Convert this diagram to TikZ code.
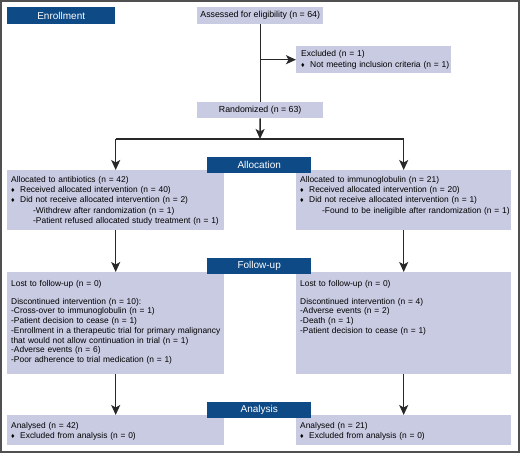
\documentclass[tikz,border=0pt]{standalone}
\usepackage{fontspec}
\setmainfont{Liberation Sans}
\usetikzlibrary{arrows.meta}
\definecolor{boxfill}{RGB}{201,203,226}
\definecolor{bannerc}{RGB}{14,74,134}
\definecolor{linec}{RGB}{40,40,40}
\definecolor{framec}{RGB}{80,80,80}
\newcommand{\dmd}{{\fontsize{7}{7}\selectfont ♦}}
\newcommand{\bitem}[1]{\makebox[9pt][l]{\dmd}#1}
\newcommand{\subitm}{\hspace*{22pt}}
\begin{document}
\begin{tikzpicture}[x=1pt,y=-1pt,
  gbox/.style={fill=boxfill, draw=none, inner sep=0pt, anchor=north west},
  banner/.style={fill=bannerc, text=white, inner sep=0pt, anchor=north west,
     minimum width=104pt, minimum height=16pt, font=\fontsize{10}{12}\selectfont},
  txt/.style={inner sep=0pt, anchor=base west, align=left},
  conn/.style={draw=linec, line width=1.4pt},
  arr/.style={conn, -{Stealth[length=10pt,width=9pt,inset=2.5pt]}}]
\useasboundingbox (0,0) rectangle (520,453);
\draw[framec, line width=1.2pt] (1,1) rectangle (519,452);

% enrollment
\node[banner, minimum width=108pt, minimum height=17pt] (enr) at (7,7) {Enrollment};
\node[gbox, minimum width=126pt, minimum height=17pt, anchor=north west, font=\fontsize{8.8}{10}\selectfont] (assess) at (197,7) {Assessed for eligibility (n = 64)};
\node[gbox, minimum width=155pt, minimum height=27pt] (excl) at (296,46) {};
\node[txt, text width=150pt, font=\fontsize{8.5}{11.5}\selectfont] (exclt) at (301,56) {Excluded (n = 1)\\\bitem{Not meeting inclusion criteria (n = 1)}};
\node[gbox, minimum width=126pt, minimum height=16pt, font=\fontsize{8.8}{10}\selectfont] (rand) at (197,102) {Randomized (n = 63)};

% allocation boxes
\node[gbox, minimum width=217pt, minimum height=60pt] (aL) at (7,170) {};
\node[gbox, minimum width=215pt, minimum height=60pt] (aR) at (296,170) {};
\node[banner] (alloc) at (207,157) {Allocation};
\node[txt, text width=214pt, font=\fontsize{8.4}{10.4}\selectfont] (aLt) at (11,182) {Allocated to antibiotics (n = 42)\\
\bitem{Received allocated intervention (n = 40)}\\
\bitem{Did not receive allocated intervention (n = 2)}\\
\subitm-Withdrew after randomization (n = 1)\\
\subitm-Patient refused allocated study treatment (n = 1)};
\node[txt, text width=212pt, font=\fontsize{8.4}{10.4}\selectfont] (aRt) at (300,182) {Allocated to immunoglobulin (n = 21)\\
\bitem{Received allocated intervention (n = 20)}\\
\bitem{Did not receive allocated intervention (n = 1)}\\
\subitm-Found to be ineligible after randomization (n = 1)};

% follow-up boxes
\node[gbox, minimum width=217pt, minimum height=102pt] (fL) at (7,272) {};
\node[gbox, minimum width=215pt, minimum height=102pt] (fR) at (296,272) {};
\node[banner] (follow) at (207,258) {Follow-up};
\node[txt, text width=214pt, font=\fontsize{8.4}{9.7}\selectfont] (fLt) at (11,286) {Lost to follow-up (n = 0)\\[8.5pt]
Discontinued intervention (n = 10):\\
-Cross-over to immunoglobulin (n = 1)\\
-Patient decision to cease (n = 1)\\
-Enrollment in a therapeutic trial for primary malignancy\\
that would not allow continuation in trial (n = 1)\\
-Adverse events (n = 6)\\
-Poor adherence to trial medication (n = 1)};
\node[txt, text width=212pt, font=\fontsize{8.4}{9.7}\selectfont] (fRt) at (300,286) {Lost to follow-up (n = 0)\\[8.5pt]
Discontinued intervention (n = 4)\\
-Adverse events (n = 2)\\
-Death (n = 1)\\
-Patient decision to cease (n = 1)};

% analysis boxes
\node[gbox, minimum width=217pt, minimum height=30pt] (nL) at (7,415) {};
\node[gbox, minimum width=215pt, minimum height=30pt] (nR) at (296,415) {};
\node[banner] (anal) at (207,402) {Analysis};
\node[txt, text width=214pt, font=\fontsize{8.4}{10}\selectfont] (nLt) at (11,428) {Analysed (n = 42)\\\bitem{Excluded from analysis (n = 0)}};
\node[txt, text width=212pt, font=\fontsize{8.4}{10}\selectfont] (nRt) at (300,428) {Analysed (n = 21)\\\bitem{Excluded from analysis (n = 0)}};

% connectors
\coordinate (j1) at (assess.south |- excl.west);
\coordinate (split) at (260,139);
\draw[conn] (assess.south) -- (rand.north);
\draw[arr] (j1) -- (excl.west);
\draw[arr] (rand.south) -- (split);
\draw[conn] (aL.north |- split) -- (aR.north |- split);
\draw[arr] (aL.north |- split) -- (aL.north);
\draw[arr] (aR.north |- split) -- (aR.north);
\draw[arr] (aL.south) -- (fL.north);
\draw[arr] (aR.south) -- (fR.north);
\draw[arr] (fL.south) -- (nL.north);
\draw[arr] (fR.south) -- (nR.north);
\end{tikzpicture}
\end{document}
